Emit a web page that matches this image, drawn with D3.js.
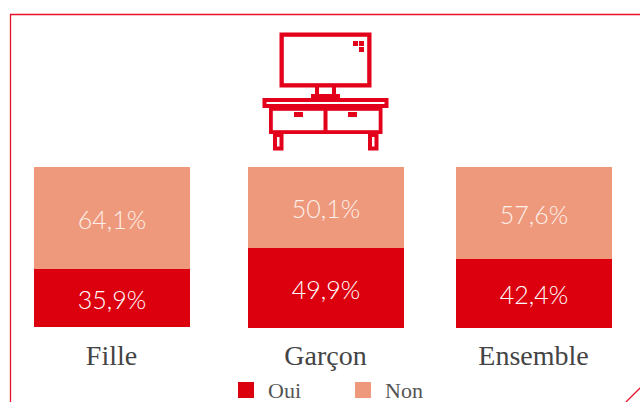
<!DOCTYPE html>
<html><head><meta charset="utf-8">
<script src="https://cdn.jsdelivr.net/npm/d3@7/dist/d3.min.js"></script>
<style>html,body{margin:0;padding:0;background:#fff;overflow:hidden}svg{display:block}</style>
</head><body><svg id="c" width="640" height="402"></svg>
<script>
const categories = ["Fille", "Garçon", "Ensemble"];
const oui = [35.9, 49.9, 42.4];
const non = [64.1, 50.1, 57.6];
const seriesNames = ["Oui", "Non"];
const seriesColors = ["#dc000f", "#ef997c"];

(function(){
const svg = d3.select("#c");
const RED = "#e2001a";
const fmt = v => v.toFixed(1).replace(".", ",") + "%";

// frame
svg.append("path").attr("fill","none").attr("stroke","#e8102a").attr("stroke-width",1.3)
  .attr("d","M10.5,402V14.5H640M626,402L640,388");

// icon
const icon = svg.append("g");
const box = (x,y,w,h,sw)=>icon.append("rect").attr("x",x+sw/2).attr("y",y+sw/2).attr("width",w-sw).attr("height",h-sw)
  .attr("fill","none").attr("stroke",RED).attr("stroke-width",sw);
const fill = (x,y,w,h)=>icon.append("rect").attr("x",x).attr("y",y).attr("width",w).attr("height",h).attr("fill",RED);
box(279.5,32.5,92,55,4.3);
fill(353,41,5,5);fill(359,41,5,5);fill(359,47,5,5);
fill(315,87,4,8);fill(332,87,4,8);
fill(311,94,29,5);
box(262.5,98,126,10,4);
box(269,107,113.5,27,3.8);
fill(323.5,108,4,25);
fill(294,112,9,5);fill(348,112,9,5);
box(273,133,10.5,17.5,4);
box(368,133,10.5,17.5,4);

// scales
const x = d3.scaleOrdinal().domain(categories).range([34,248,456]);
const barW = 156;
const barTop = 167;
const bottom = d3.scaleOrdinal().domain(categories).range([327,328.8,328]);
const y = c => d3.scaleLinear().domain([0,100]).range([bottom(c),barTop]);
const py = (c,v) => Math.floor(y(c)(v));

const rows = categories.map((c,i)=>({c,oui:oui[i],non:non[i]}));
const stack = d3.stack().keys(["oui","non"])(rows);
const color = d3.scaleOrdinal().domain(["oui","non"]).range(seriesColors);

const g = svg.selectAll(".s").data(stack).join("g").attr("class","s").attr("fill",d=>color(d.key));
g.selectAll("rect").data(d=>d).join("rect")
  .attr("x",d=>x(d.data.c)).attr("width",barW)
  .attr("y",d=>py(d.data.c,d[1]))
  .attr("height",d=>py(d.data.c,d[0])-py(d.data.c,d[1]));

const valueLabels = svg.append("g").attr("font-family","Lato").attr("font-weight",300)
  .attr("font-size",25).attr("text-anchor","middle");
stack.forEach((s,si)=>{
  valueLabels.selectAll(null).data(s).join("text")
    .attr("x",d=>x(d.data.c)+barW/2)
    .attr("y",d=>(y(d.data.c)(d[0])+y(d.data.c)(d[1]))/2+10.5)
    .attr("fill", si===0 ? "#ffffff" : "#fdf0ea")
    .text(d=>fmt(d[1]-d[0]));
});

svg.append("g").selectAll("text").data(categories).join("text")
  .attr("x",c=>x(c)+barW/2-0.5).attr("y",365)
  .attr("text-anchor","middle").attr("font-family","Liberation Serif")
  .attr("font-size",28).attr("fill","#444").text(c=>c);

// legend
const lx = d3.scaleOrdinal().domain(seriesNames).range([238,355]);
const leg = svg.append("g").selectAll("g").data(seriesNames).join("g")
  .attr("transform",d=>`translate(${lx(d)},382)`);
leg.append("rect").attr("width",16).attr("height",16).attr("fill",(d,i)=>seriesColors[i]);
leg.append("text").attr("x",30).attr("y",15.5).attr("font-family","Liberation Serif")
  .attr("font-size",22).attr("fill","#555").text(d=>d);
})();
</script></body></html>
